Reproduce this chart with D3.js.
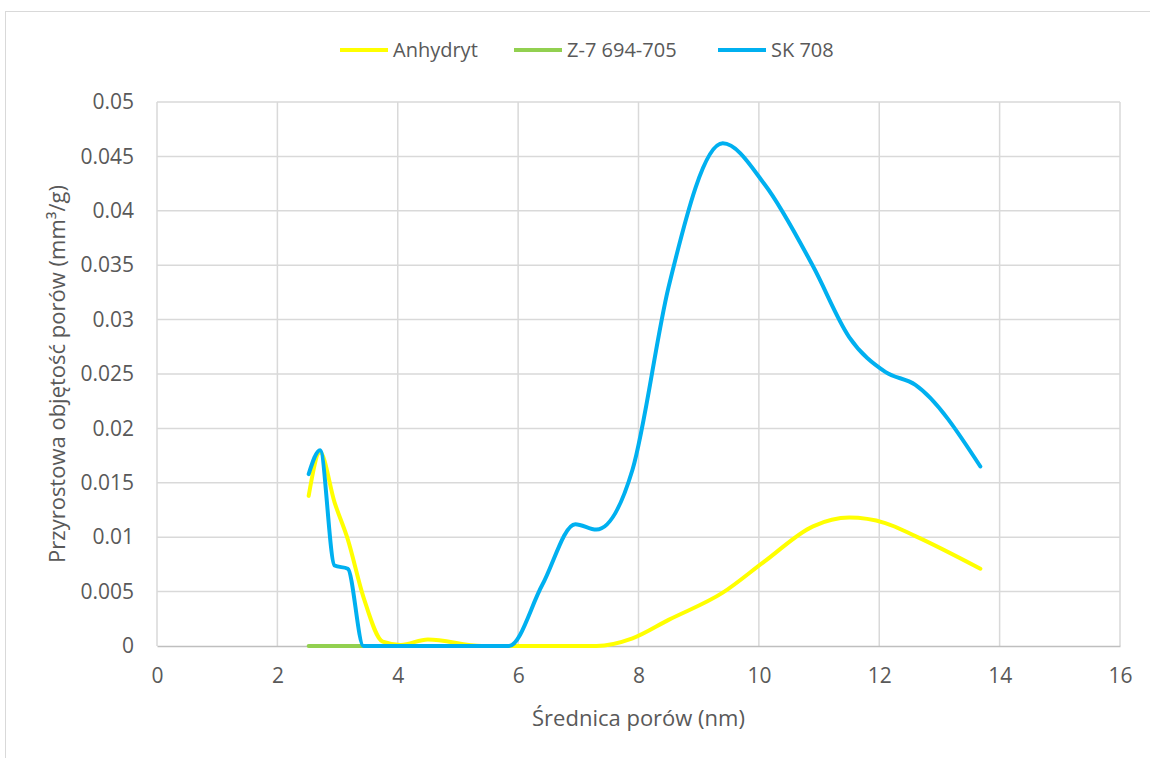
<!DOCTYPE html>
<html>
<head>
<meta charset="utf-8">
<script src="https://cdn.jsdelivr.net/npm/d3@7"></script>
<style>
  body { margin: 0; background: #fff; }
  text { font-family: "Open Sans", sans-serif; fill: #595959; }
</style>
</head>
<body>
<script>
// pore diameter (nm) - shared x values
var poreDiameter = [2.52, 2.71, 2.95, 3.17, 3.43, 3.75, 4.05, 4.5, 5.4, 5.85, 6.4, 6.95, 7.3, 7.9, 8.5, 9.4, 10.1, 10.9, 11.5, 12.1, 12.6, 13.68];

// incremental pore volume (mm3/g) per sample
var anhydryt = [0.0138, 0.0178, 0.0132, 0.0098, 0.0045, 0.0004, 0.0001, 0.0006, 0.0000, 0.0000, 0.0000, 0.0000, 0.0000, 0.0007, 0.0024, 0.0049, 0.0078, 0.0110, 0.0118, 0.0113, 0.0101, 0.0071];
var z7 = [0, 0, 0, 0, 0, 0, null, null, null, null, null, null, null, null, null, null, null, null, null, null, null, null];
var sk708 = [0.0158, 0.0180, 0.0074, 0.0071, 0.0000, 0.0000, 0.0000, 0.0000, 0.0000, 0.0000, 0.0056, 0.0112, 0.0107, 0.0162, 0.0330, 0.0462, 0.0424, 0.0349, 0.0284, 0.0252, 0.0240, 0.0165];

var seriesNames = ["Anhydryt", "Z-7 694-705", "SK 708"];
var seriesColors = ["#FFFF00", "#92D050", "#00B0F0"];
var seriesValues = [anhydryt, z7, sk708];

var xTicks = [0, 2, 4, 6, 8, 10, 12, 14, 16];
var yTicks = [0, 0.005, 0.01, 0.015, 0.02, 0.025, 0.03, 0.035, 0.04, 0.045, 0.05];

var W = 1150, H = 758;
var margin = {top: 102, right: 30, bottom: 112, left: 157},
    width = W - margin.left - margin.right,
    height = H - margin.top - margin.bottom;

var svg = d3.select("body").append("svg")
    .attr("width", W)
    .attr("height", H);

// chart border
svg.append("rect")
    .attr("x", 5.5).attr("y", 11.5)
    .attr("width", W + 20).attr("height", H + 20)
    .attr("fill", "none")
    .attr("stroke", "#d9d9d9")
    .attr("stroke-width", 1);

var g = svg.append("g")
    .attr("transform", "translate(" + margin.left + "," + margin.top + ")");

var x = d3.scaleLinear().domain([0, 16]).range([0, width]);
var y = d3.scaleLinear().domain([0, 0.05]).range([height, 0]);

// gridlines
g.append("g").selectAll("line").data(yTicks.slice(1)).enter().append("line")
    .attr("x1", 0).attr("x2", width)
    .attr("y1", function(d) { return y(d); })
    .attr("y2", function(d) { return y(d); })
    .attr("stroke", "#d9d9d9").attr("stroke-width", 1.5);

g.append("g").selectAll("line").data(xTicks).enter().append("line")
    .attr("x1", function(d) { return x(d); })
    .attr("x2", function(d) { return x(d); })
    .attr("y1", 0).attr("y2", height)
    .attr("stroke", "#d9d9d9").attr("stroke-width", 1.5);

// x axis
var xAxis = g.append("g")
    .attr("transform", "translate(0," + height + ")")
    .call(d3.axisBottom(x).tickValues(xTicks).tickSize(0).tickPadding(22).tickFormat(d3.format("d")));
xAxis.select(".domain").attr("stroke", "#bfbfbf").attr("stroke-width", 1.5);
xAxis.selectAll("text").style("font-size", "21px").attr("fill", "#595959");

// y axis
var yAxis = g.append("g")
    .call(d3.axisLeft(y).tickValues(yTicks).tickSize(0).tickPadding(23)
      .tickFormat(function(d) { return d === 0 ? "0" : String(+d.toFixed(3)); }));
yAxis.select(".domain").remove();
yAxis.selectAll("text").style("font-size", "21px").attr("fill", "#595959");

// lines
var line = d3.line()
    .defined(function(d) { return d.v !== null; })
    .x(function(d) { return x(d.x); })
    .y(function(d) { return y(d.v); })
    .curve(d3.curveMonotoneX);

seriesValues.forEach(function(vals, i) {
  var data = poreDiameter.map(function(px, j) { return {x: px, v: vals[j]}; });
  g.append("path")
      .datum(data)
      .attr("fill", "none")
      .attr("stroke", seriesColors[i])
      .attr("stroke-width", 4)
      .attr("stroke-linecap", "round")
      .attr("stroke-linejoin", "round")
      .attr("d", line);
});

// axis titles
svg.append("text")
    .attr("x", margin.left + width / 2)
    .attr("y", 726)
    .attr("text-anchor", "middle")
    .style("font-size", "22px")
    .text("Średnica porów (nm)");

svg.append("text")
    .attr("transform", "translate(65," + (margin.top + height / 2) + ") rotate(-90)")
    .attr("text-anchor", "middle")
    .style("font-size", "22px")
    .text("Przyrostowa objętość porów (mm³/g)");

// legend
var legendX = [340, 514, 718];
var legend = svg.append("g");
seriesNames.forEach(function(name, i) {
  legend.append("line")
      .attr("x1", legendX[i]).attr("x2", legendX[i] + 48)
      .attr("y1", 50).attr("y2", 50)
      .attr("stroke", seriesColors[i])
      .attr("stroke-width", 4);
  legend.append("text")
      .attr("x", legendX[i] + 53)
      .attr("y", 50)
      .attr("dy", "0.35em")
      .style("font-size", "20px")
      .text(name);
});
</script>
</body>
</html>
